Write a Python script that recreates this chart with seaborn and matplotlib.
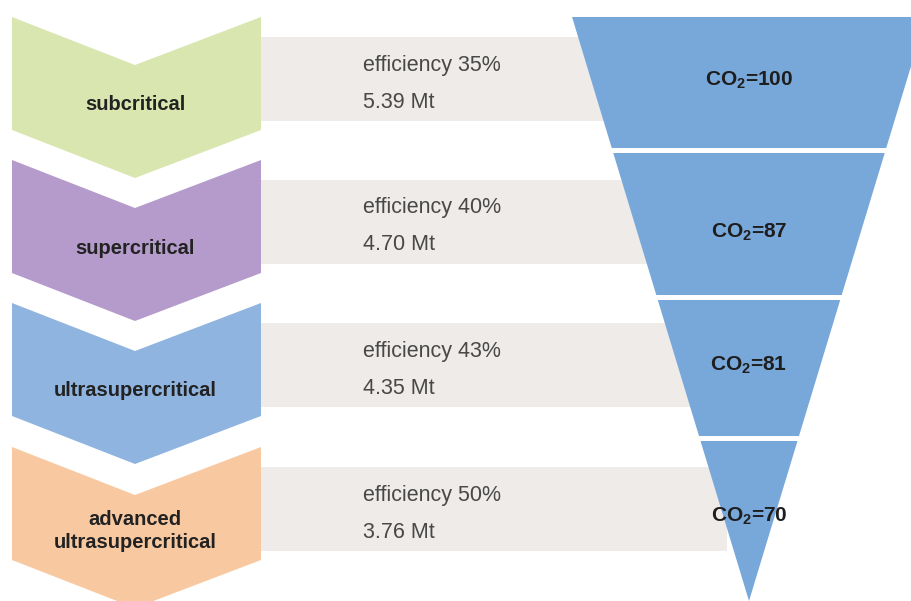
import matplotlib
matplotlib.use("Agg")
import matplotlib.pyplot as plt
from matplotlib.patches import Polygon
import seaborn as sns

# ---- data ----
technologies = ["subcritical", "supercritical", "ultrasupercritical", "advanced\nultrasupercritical"]
efficiency_pct = [35, 40, 43, 50]
emissions_mt = [5.39, 4.70, 4.35, 3.76]
co2_index = [100, 87, 81, 70]
chevron_colors = ["#d9e6b0", "#b59bcb", "#90b4e0", "#f8c9a1"]
band_color = "#eeebe8"
funnel_color = "#78a8da"

sns.set_theme(style="white")
plt.rcParams["font.family"] = ["Liberation Sans", "DejaVu Sans"]
plt.rcParams["mathtext.fontset"] = "custom"
plt.rcParams["mathtext.bf"] = "Liberation Sans:bold"
plt.rcParams["mathtext.rm"] = "Liberation Sans"

W, H = 911, 601
fig = plt.figure(figsize=(W / 100, H / 100), dpi=100)
ax = fig.add_axes([0, 0, 1, 1])
ax.set_xlim(0, W)
ax.set_ylim(H, 0)
ax.axis("off")

# layout
row_top = [17, 160, 303, 447]
band_top = [37, 180, 323, 467]
band_h = 84
cx_l, cx_r, cx_m = 12, 261, 135
notch, body = 48, 113

# gray bands (horizontal bars)
ax.barh([t + band_h / 2 for t in band_top], [727 - 261] * 4, left=261, height=band_h,
        color=band_color, edgecolor="none", zorder=1)

# chevrons
for y0, col, lab in zip(row_top, chevron_colors, technologies):
    pts = [(cx_l, y0), (cx_m, y0 + notch), (cx_r, y0), (cx_r, y0 + body),
           (cx_m, y0 + body + notch), (cx_l, y0 + body)]
    ax.add_patch(Polygon(pts, closed=True, facecolor=col, edgecolor="none", zorder=2))
    yc = y0 + 88 if "\n" not in lab else y0 + 84
    ax.text(cx_m, yc, lab, ha="center", va="center", fontsize=14.5, fontweight="bold",
            color="#222222", linespacing=1.25, zorder=3)

# band texts
for bt, eff, mt in zip(band_top, efficiency_pct, emissions_mt):
    ax.text(363, bt + 28, f"efficiency {eff}%", ha="left", va="center", fontsize=15.5,
            color="#484848", zorder=3)
    ax.text(363, bt + 65, f"{mt:.2f} Mt", ha="left", va="center", fontsize=15.5,
            color="#484848", zorder=3)

# funnel
apex_x, apex_y, slope = 749, 601, 0.303
segs = [(17, 148), (153, 295), (300, 436), (441, 601)]
label_y = [80, 232, 365, 516]


def half(y):
    return (apex_y - y) * slope


for (ya, yb), val, ly in zip(segs, co2_index, label_y):
    pts = [(apex_x - half(ya), ya), (apex_x + half(ya), ya),
           (apex_x + half(yb), yb), (apex_x - half(yb), yb)]
    ax.add_patch(Polygon(pts, closed=True, facecolor=funnel_color, edgecolor="none", zorder=4))
    ax.text(apex_x, ly, r"CO$\mathbf{_{2}}$=%d" % val, ha="center", va="center",
            fontsize=15, fontweight="bold", color="#1e1e1e", zorder=5)

fig.savefig("out.png", dpi=100)
